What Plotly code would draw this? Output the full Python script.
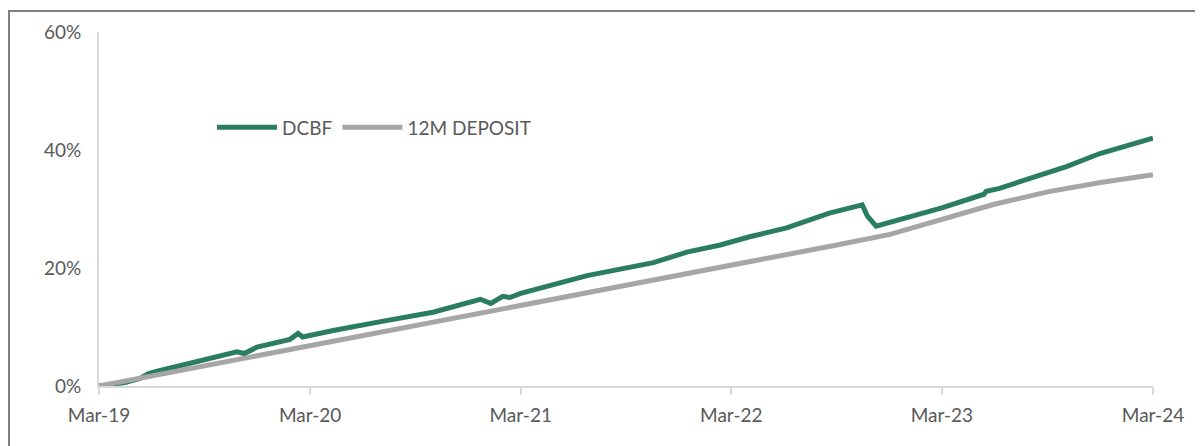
import plotly.graph_objects as go

# ---- data ----
dcbf_dates = [
    "2019-03-31", "2019-05-15", "2019-06-10", "2019-06-25", "2019-07-10", "2019-09-05",
    "2019-11-01", "2019-11-25", "2019-12-08", "2019-12-30", "2020-02-25", "2020-03-10",
    "2020-03-18", "2020-03-31", "2020-05-10", "2020-08-05", "2020-10-30", "2021-01-20",
    "2021-02-07", "2021-02-28", "2021-03-12", "2021-03-31", "2021-05-03", "2021-07-24",
    "2021-11-16", "2022-01-13", "2022-03-12", "2022-05-02", "2022-07-05", "2022-09-17",
    "2022-11-13", "2022-11-22", "2022-12-07", "2022-12-30", "2023-01-17", "2023-03-31",
    "2023-06-12", "2023-06-16", "2023-07-09", "2023-11-02", "2023-12-30", "2024-02-24",
    "2024-03-31",
]
dcbf_values = [
    0.0, 0.6, 1.3, 2.1, 2.5, 3.8,
    5.2, 5.8, 5.5, 6.6, 7.9, 8.9,
    8.3, 8.6, 9.4, 11.0, 12.5, 14.7,
    14.0, 15.2, 15.0, 15.7, 16.6, 18.7,
    20.9, 22.7, 23.9, 25.3, 26.8, 29.3,
    30.7, 28.8, 27.1, 27.7, 28.3, 30.2,
    32.5, 33.0, 33.5, 37.2, 39.4, 41.1,
    42.0,
]

deposit_dates = [
    "2019-03-31", "2019-09-30", "2020-03-31", "2020-09-30", "2021-03-31", "2021-09-30",
    "2022-03-31", "2022-06-30", "2022-09-30", "2022-12-31", "2023-03-31", "2023-06-30",
    "2023-09-30", "2023-12-31", "2024-03-31",
]
deposit_values = [
    0.0, 3.4, 6.8, 10.3, 13.7, 17.0,
    20.3, 22.2, 23.9, 25.7, 28.2, 30.8,
    32.9, 34.5, 35.8,
]

tick_dates = ["2019-03-31", "2020-03-31", "2021-03-31", "2022-03-31", "2023-03-31", "2024-03-31"]
tick_labels = ["Mar-19", "Mar-20", "Mar-21", "Mar-22", "Mar-23", "Mar-24"]
y_ticks = [0, 20, 40, 60]
y_tick_labels = ["0%", "20%", "40%", "60%"]

GREEN = "#2a7c62"
GRAY = "#a6a6a6"
AXIS = "#d9d9d9"
TEXT = "#595959"
FONT = "Lato"

fig = go.Figure()
fig.add_trace(go.Scatter(x=dcbf_dates, y=dcbf_values, mode="lines", name="DCBF",
                         line=dict(color=GREEN, width=5)))
fig.add_trace(go.Scatter(x=deposit_dates, y=deposit_values, mode="lines", name="12M DEPOSIT",
                         line=dict(color=GRAY, width=5)))

# the page body adds an 8px offset; figure coords = screen coords - 8
W, H = 1203, 446
L, R, T, B = 91, 58, 22, 68
pw, ph = W - L - R, H - T - B

def px2paper_x(px):
    return (px - L) / pw

def px2paper_y(py):
    return (H - B - py) / ph

# outer frame (top and left edges visible in reference)
frame = dict(color="#7f7f7f", width=2)
fig.add_shape(type="line", xref="paper", yref="paper",
              x0=px2paper_x(0), x1=px2paper_x(1210), y0=px2paper_y(1), y1=px2paper_y(1), line=frame)
fig.add_shape(type="line", xref="paper", yref="paper",
              x0=px2paper_x(1), x1=px2paper_x(1), y0=px2paper_y(0), y1=px2paper_y(460), line=frame)

fig.update_layout(
    width=W, height=H,
    margin=dict(l=L, r=R, t=T, b=B, pad=0),
    paper_bgcolor="white", plot_bgcolor="white",
    font=dict(family=FONT, size=19, color=TEXT),
    showlegend=True,
    legend=dict(orientation="h", x=px2paper_x(204), y=px2paper_y(118), xanchor="left", yanchor="middle",
                font=dict(family=FONT, size=19, color=TEXT), itemwidth=60,
                bgcolor="rgba(0,0,0,0)", tracegroupgap=0),
    xaxis=dict(type="date", range=["2019-03-31", "2024-03-31"], tickvals=tick_dates, ticktext=tick_labels,
               showgrid=False, zeroline=False, showline=True, linecolor=AXIS, linewidth=2,
               ticks="outside", ticklen=7, tickcolor=AXIS, tickwidth=2, ticklabelstandoff=4),
    yaxis=dict(range=[0, 60], tickvals=y_ticks, ticktext=y_tick_labels, showgrid=False, zeroline=False,
               showline=True, linecolor=AXIS, linewidth=2, ticks="", ticklabelstandoff=12),
)

fig.write_html("out.html")
